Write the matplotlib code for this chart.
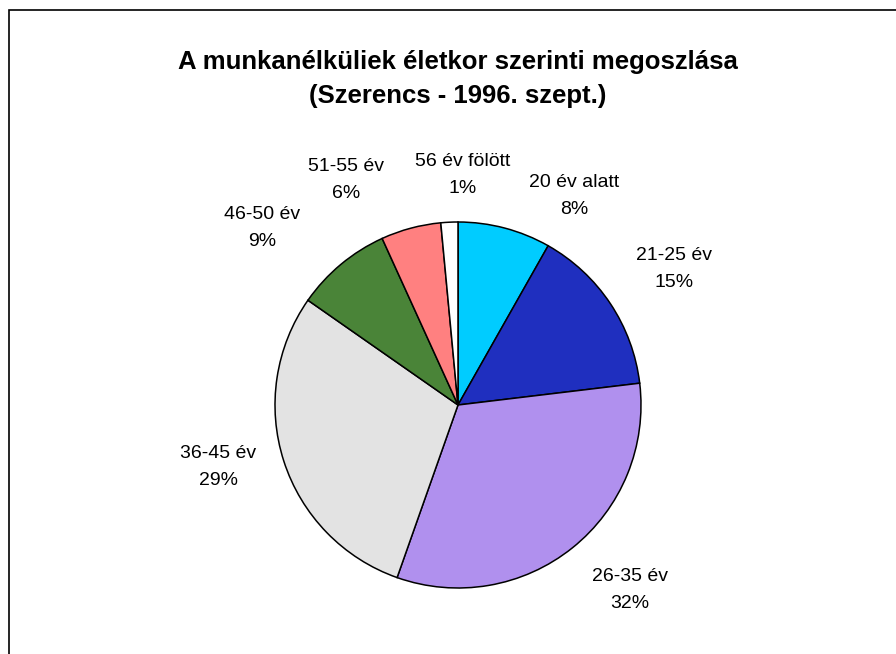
import matplotlib
matplotlib.use("Agg")
import matplotlib.pyplot as plt
from matplotlib.patches import Rectangle

plt.rcParams['font.family'] = ['Liberation Sans', 'DejaVu Sans']

title = 'A munkanélküliek életkor szerinti megoszlása\n(Szerencs - 1996. szept.)'
categories = ['20 év alatt', '21-25 év', '26-35 év', '36-45 év', '46-50 év', '51-55 év', '56 év fölött']
values = [8.2, 14.9, 32.3, 29.3, 8.5, 5.3, 1.5]
percent_labels = ['8%', '15%', '32%', '29%', '9%', '6%', '1%']
colors = ['#00CCFF', '#1F2FBF', '#B090EE', '#E3E3E3', '#4A8438', '#FF8080', '#FFFFFF']

# label centres, in pie-radius units (Excel places them by hand-ish)
label_pos = [(0.634, 1.142), (1.180, 0.743), (0.940, -1.011), (-1.311, -0.339),
             (-1.071, 0.967), (-0.612, 1.230), (0.027, 1.257)]

W, H = 896, 654
fig = plt.figure(figsize=(W / 100, H / 100), dpi=100)
fig.patch.set_facecolor('white')

# chart area border (runs off the right and bottom edges)
fig.patches.append(Rectangle((8.5 / W, -0.1), 1.2, 1.1 - 10.5 / H, transform=fig.transFigure,
                             fill=False, edgecolor='black', linewidth=1.2))

cx, cy, r = 458, 405, 183
ax = fig.add_axes([(cx - r) / W, (H - cy - r) / H, 2 * r / W, 2 * r / H])
wedges, texts = ax.pie(values, colors=colors, startangle=90, counterclock=False,
                       labels=[c + '\n' + p for c, p in zip(categories, percent_labels)],
                       wedgeprops=dict(edgecolor='black', linewidth=1.1),
                       textprops=dict(fontsize=14, color='black', linespacing=1.78))
for t, (x, y) in zip(texts, label_pos):
    t.set_position((x, y))
    t.set_ha('center')
    t.set_va('center')
ax.set_xlim(-1, 1)
ax.set_ylim(-1, 1)
ax.set_aspect('equal')
ax.axis('off')

fig.text(cx / W, 1 - 79 / H, title, ha='center', va='center', fontsize=18.5,
         fontweight='bold', linespacing=1.5)

fig.savefig('out.png', dpi=100, facecolor='white')
